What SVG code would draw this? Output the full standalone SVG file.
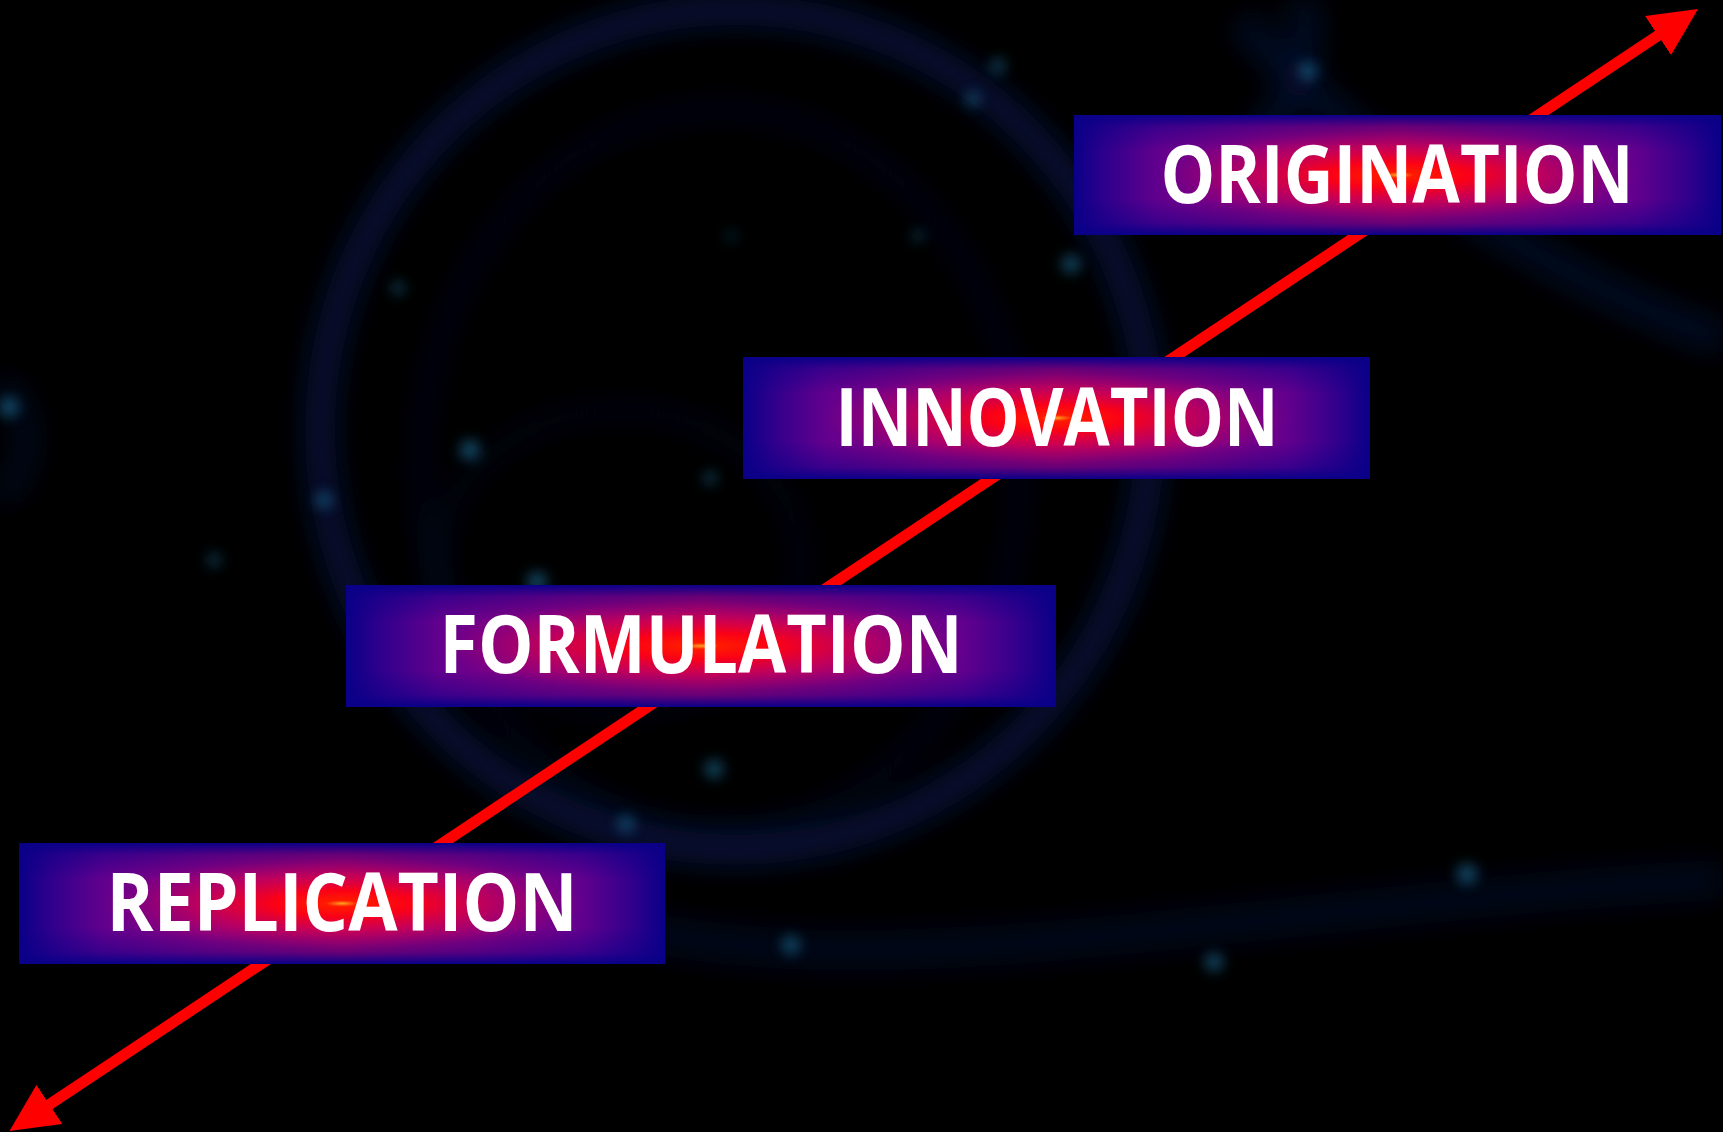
<svg xmlns="http://www.w3.org/2000/svg" width="1723" height="1132" viewBox="0 0 1723 1132">
  <defs>
    <style>
      .base { fill: #0a0088; }
      .band { fill: url(#hband); }
      .core { fill: url(#core); }
      .label { font-family: "Open Sans", "Liberation Sans", sans-serif; font-weight: 700; font-size: 81px; fill: #ffffff; text-anchor: middle; }
      .ring { fill: none; stroke: #0a1d5c; }
      .star { fill: #1f6d96; }
    </style>
    <!-- label plate: navy base, purple band fading to the edges, red hot core -->
    <linearGradient id="hband" x1="0" y1="0" x2="1" y2="0">
      <stop offset="0" stop-color="#0a0088"/>
      <stop offset="0.05" stop-color="#30008c"/>
      <stop offset="0.13" stop-color="#62008e"/>
      <stop offset="0.3" stop-color="#92007e"/>
      <stop offset="0.5" stop-color="#b80066"/>
      <stop offset="0.7" stop-color="#92007e"/>
      <stop offset="0.87" stop-color="#62008e"/>
      <stop offset="0.95" stop-color="#30008c"/>
      <stop offset="1" stop-color="#0a0088"/>
    </linearGradient>
    <linearGradient id="vfade" x1="0" y1="0" x2="0" y2="1">
      <stop offset="0" stop-color="#000000"/>
      <stop offset="0.1" stop-color="#909090"/>
      <stop offset="0.3" stop-color="#ffffff"/>
      <stop offset="0.7" stop-color="#ffffff"/>
      <stop offset="0.9" stop-color="#909090"/>
      <stop offset="1" stop-color="#000000"/>
    </linearGradient>
    <mask id="vmask" maskContentUnits="objectBoundingBox">
      <rect x="0" y="0" width="1" height="1" fill="url(#vfade)"/>
    </mask>
    <radialGradient id="core" cx="0.5" cy="0.5" r="0.5" gradientUnits="objectBoundingBox">
      <stop offset="0" stop-color="#ffa020" stop-opacity="1"/>
      <stop offset="0.05" stop-color="#ff1a00" stop-opacity="1"/>
      <stop offset="0.22" stop-color="#fa0018" stop-opacity="1"/>
      <stop offset="0.45" stop-color="#d4004c" stop-opacity="0.65"/>
      <stop offset="0.75" stop-color="#a00070" stop-opacity="0"/>
    </radialGradient>
    <filter id="soft" x="-20%" y="-20%" width="140%" height="140%">
      <feGaussianBlur stdDeviation="14"/>
    </filter>
    <filter id="twinkle" x="-100%" y="-100%" width="300%" height="300%">
      <feGaussianBlur stdDeviation="7"/>
    </filter>
    <marker id="head" markerUnits="userSpaceOnUse" markerWidth="48" markerHeight="47" refX="8" refY="23.5" orient="auto-start-reverse">
      <path d="M0,0 L48,23.5 L0,47 Z" fill="#ff0000"/>
    </marker>
  </defs>

  <!-- starfield backdrop -->
  <rect x="0" y="0" width="1723" height="1132" fill="#000000"/>
  <g id="backdrop">
    <g filter="url(#soft)" opacity="0.6">
      <ellipse class="ring" cx="735" cy="430" rx="415" ry="420" stroke-width="30"/>
      <ellipse class="ring" cx="720" cy="470" rx="300" ry="360" stroke-width="16" opacity="0.45"/>
      <ellipse class="ring" cx="620" cy="560" rx="180" ry="150" stroke-width="18" opacity="0.35"/>
      <path class="ring" d="M640,930 C900,990 1300,900 1723,880" stroke-width="40" opacity="0.45"/>
      <path class="ring" d="M1240,20 C1330,120 1500,260 1723,340" stroke-width="34" opacity="0.6"/>
      <path class="ring" d="M1300,0 C1320,60 1290,110 1250,140" stroke-width="34" opacity="0.6"/>
      <path class="ring" d="M0,380 C40,420 30,470 0,500" stroke-width="24" opacity="0.5"/>
    </g>
    <g filter="url(#twinkle)" opacity="0.7">
      <circle class="star" cx="470" cy="450" r="10"/>
      <circle class="star" cx="1467" cy="874" r="10"/>
      <circle class="star" cx="791" cy="945" r="9"/>
      <circle class="star" cx="1214" cy="962" r="9"/>
      <circle class="star" cx="714" cy="769" r="9"/>
      <circle class="star" cx="9" cy="407" r="10"/>
      <circle class="star" cx="324" cy="500" r="8"/>
      <circle class="star" cx="998" cy="66" r="7"/>
      <circle class="star" cx="1071" cy="264" r="9"/>
      <circle class="star" cx="973" cy="99" r="7"/>
      <circle class="star" cx="398" cy="288" r="6"/>
      <circle class="star" cx="918" cy="236" r="5"/>
      <circle class="star" cx="731" cy="236" r="4"/>
      <circle class="star" cx="1308" cy="71" r="9"/>
      <circle class="star" cx="626" cy="824" r="8"/>
      <circle class="star" cx="214" cy="560" r="6"/>
      <circle class="star" cx="537" cy="582" r="10"/>
      <circle class="star" cx="710" cy="478" r="6"/>
    </g>
  </g>

  <!-- double-headed progression arrow -->
  <g id="connectors">
    <line x1="42.8" y1="1108.9" x2="1664.7" y2="31.1" stroke="#ff0000" stroke-width="11" marker-start="url(#head)" marker-end="url(#head)"/>
  </g>

  <g id="replication">
    <rect class="base" x="19" y="843" width="646" height="121"/>
    <rect class="band" x="19" y="843" width="646" height="121" mask="url(#vmask)"/>
    <rect class="core" x="19" y="843" width="646" height="121"/>
    <text class="label" x="342" y="931" textLength="471" lengthAdjust="spacingAndGlyphs">REPLICATION</text>
  </g>

  <g id="formulation">
    <rect class="base" x="346" y="585" width="710" height="122"/>
    <rect class="band" x="346" y="585" width="710" height="122" mask="url(#vmask)"/>
    <rect class="core" x="346" y="585" width="710" height="122"/>
    <text class="label" x="701" y="673" textLength="523" lengthAdjust="spacingAndGlyphs">FORMULATION</text>
  </g>

  <g id="innovation">
    <rect class="base" x="743" y="357" width="627" height="122"/>
    <rect class="band" x="743" y="357" width="627" height="122" mask="url(#vmask)"/>
    <rect class="core" x="743" y="357" width="627" height="122"/>
    <text class="label" x="1057" y="446" textLength="443" lengthAdjust="spacingAndGlyphs">INNOVATION</text>
  </g>

  <g id="origination">
    <rect class="base" x="1074" y="115" width="647" height="120"/>
    <rect class="band" x="1074" y="115" width="647" height="120" mask="url(#vmask)"/>
    <rect class="core" x="1074" y="115" width="647" height="120"/>
    <text class="label" x="1397" y="203" textLength="473" lengthAdjust="spacingAndGlyphs">ORIGINATION</text>
  </g>
</svg>
